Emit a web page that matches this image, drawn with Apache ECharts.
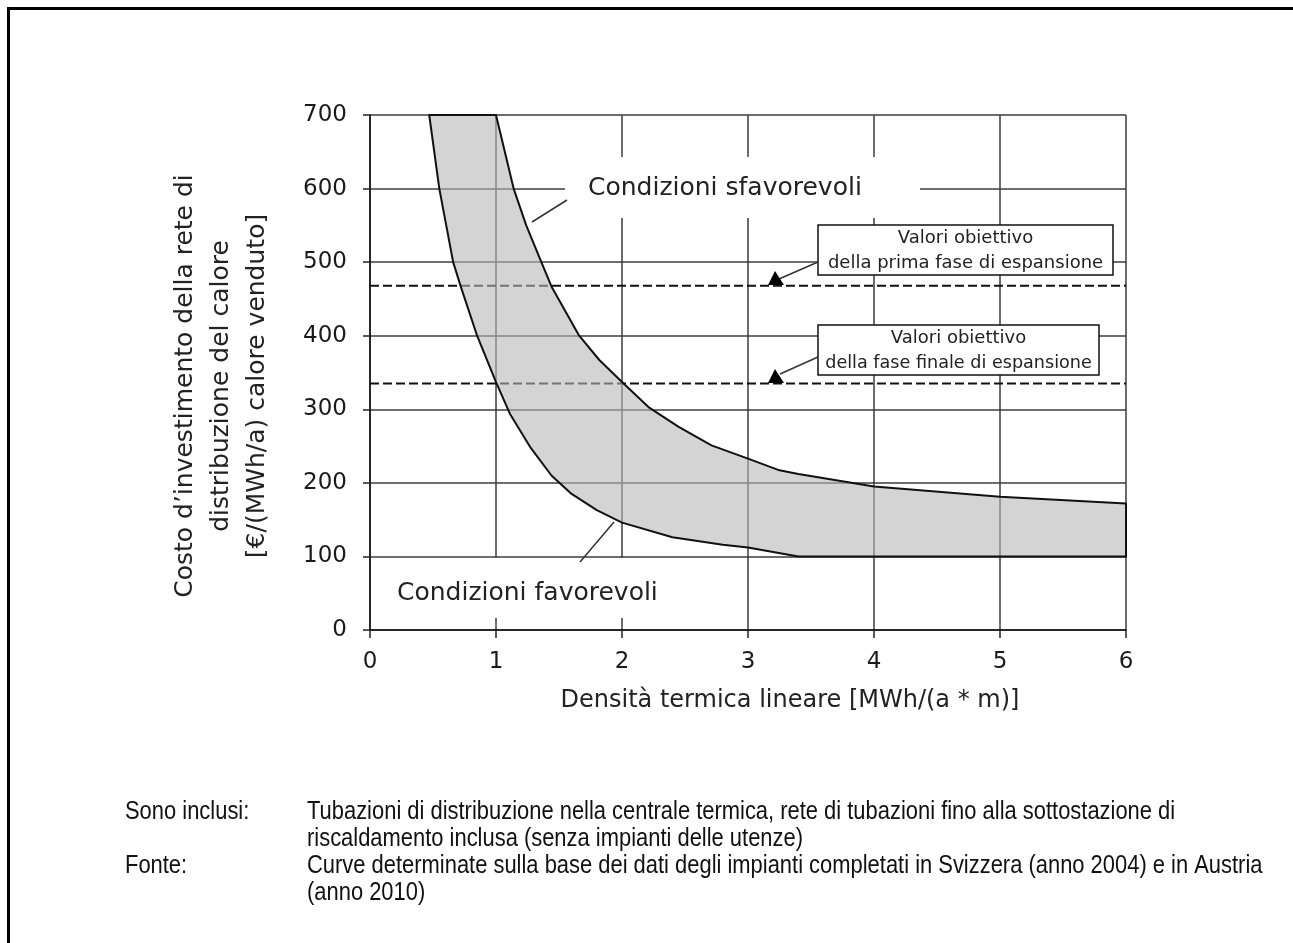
<!DOCTYPE html>
<html>
<head>
<meta charset="utf-8">
<script src="https://cdn.jsdelivr.net/npm/echarts@6/dist/echarts.min.js"></script>
<style>
html,body{margin:0;padding:0;background:#fff;}
#c{width:1293px;height:943px;}
</style>
</head>
<body>
<div id="c"></div>
<script>
// Favourable conditions (lower curve)
const favX = [0.47, 0.55, 0.66, 0.72, 0.85, 1.0, 1.11, 1.27, 1.44, 1.6, 1.8, 2.0, 2.4, 2.8, 3.0, 3.4, 4, 5, 6];
const favY = [700, 600, 500, 467, 400, 337, 294, 249, 210, 185, 163, 146, 126, 116, 112, 100, 100, 100, 100];
// Unfavourable conditions (upper curve)
const sfavX = [1.0, 1.07, 1.14, 1.24, 1.36, 1.44, 1.66, 1.82, 2.0, 2.21, 2.45, 2.71, 3.0, 3.25, 3.4, 4.0, 5.0, 6.0];
const sfavY = [700, 650, 600, 550, 500, 467, 400, 367, 337, 303, 276, 251, 233, 217, 212, 195, 181, 172];
// Target values
const targetFirst = 468;
const targetFinal = 335;
const xRange = [0, 6];

const F = '"DejaVu Sans", sans-serif';
const NF = '"Liberation Sans", Arial, sans-serif';
const NSX = 0.877; // narrow look for the notes

const chart = echarts.init(document.getElementById('c'), null, {renderer: 'canvas'});

const axisCommon = {
  axisLine: {show: true, onZero: false, lineStyle: {color: '#111', width: 1.5}},
  axisTick: {show: true, length: 8, lineStyle: {color: '#222', width: 1.5}},
  splitLine: {show: true, lineStyle: {color: '#3c3c3c', width: 1.5}},
  axisLabel: {color: '#1a1a1a', fontFamily: F, fontSize: 23}
};

function note(x, y, text) {
  return {type: 'text', z: 10, x: x, y: y, scaleX: NSX,
    style: {text: text, font: '25px ' + NF, fill: '#111', align: 'left', verticalAlign: 'middle'}};
}

const option = {
  animation: false,
  backgroundColor: '#fff',
  grid: {left: 370, right: 167, top: 115, bottom: 313},
  xAxis: Object.assign({}, axisCommon, {
    type: 'value', min: 0, max: 6, interval: 1,
    axisLabel: Object.assign({}, axisCommon.axisLabel, {margin: 21})
  }),
  yAxis: Object.assign({}, axisCommon, {
    type: 'value', min: 0, max: 700, interval: 100,
    axisTick: {show: true, length: 7, lineStyle: {color: '#222', width: 1.5}},
    axisLabel: Object.assign({}, axisCommon.axisLabel, {margin: 23})
  }),
  series: [
    {
      type: 'line', name: 'first', z: 3, silent: true, symbol: 'none',
      data: [[xRange[0], targetFirst], [xRange[1], targetFirst]],
      lineStyle: {color: '#111', width: 2, type: [9, 4]}
    },
    {
      type: 'line', name: 'final', z: 3, silent: true, symbol: 'none',
      data: [[xRange[0], targetFinal], [xRange[1], targetFinal]],
      lineStyle: {color: '#111', width: 2, type: [9, 4]}
    },
    {
      type: 'custom', name: 'band', z: 5, silent: true,
      data: [[0, 0]],
      renderItem: function (params, api) {
        const pts = [];
        for (let i = 0; i < favX.length; i++) pts.push(api.coord([favX[i], favY[i]]));
        for (let i = sfavX.length - 1; i >= 0; i--) pts.push(api.coord([sfavX[i], sfavY[i]]));
        return {
          type: 'polygon',
          shape: {points: pts},
          style: {fill: 'rgba(183,183,183,0.6)', stroke: '#111', lineWidth: 2, lineJoin: 'round'}
        };
      }
    }
  ],
  graphic: [
    // outer frame
    {type: 'line', z: 20, shape: {x1: 7, y1: 8.5, x2: 1293, y2: 8.5}, style: {stroke: '#000', lineWidth: 3}},
    {type: 'line', z: 20, shape: {x1: 8.5, y1: 7, x2: 8.5, y2: 943}, style: {stroke: '#000', lineWidth: 3}},
    // white backgrounds behind labels
    {type: 'rect', z: 1, shape: {x: 565, y: 157, width: 355, height: 61}, style: {fill: '#fff'}},
    {type: 'rect', z: 1, shape: {x: 373, y: 558, width: 345, height: 60}, style: {fill: '#fff'}},
    {type: 'text', z: 10, x: 588, y: 188, style: {text: 'Condizioni sfavorevoli', font: '25px ' + F, fill: '#222', align: 'left', verticalAlign: 'middle'}},
    {type: 'line', z: 10, shape: {x1: 567, y1: 200, x2: 532, y2: 222}, style: {stroke: '#333', lineWidth: 1.5}},
    {type: 'text', z: 10, x: 397, y: 593, style: {text: 'Condizioni favorevoli', font: '25px ' + F, fill: '#222', align: 'left', verticalAlign: 'middle'}},
    {type: 'line', z: 10, shape: {x1: 580, y1: 562, x2: 614, y2: 522}, style: {stroke: '#333', lineWidth: 1.5}},
    // target boxes
    {type: 'rect', z: 10, shape: {x: 818, y: 225, width: 295, height: 50}, style: {fill: '#fff', stroke: '#111', lineWidth: 1.5}},
    {type: 'text', z: 11, x: 965.5, y: 238, style: {text: 'Valori obiettivo', font: '18px ' + F, fill: '#222', align: 'center', verticalAlign: 'middle'}},
    {type: 'text', z: 11, x: 965.5, y: 263, style: {text: 'della prima fase di espansione', font: '18px ' + F, fill: '#222', align: 'center', verticalAlign: 'middle'}},
    {type: 'line', z: 10, shape: {x1: 818, y1: 262, x2: 779, y2: 279}, style: {stroke: '#333', lineWidth: 1.5}},
    {type: 'polygon', z: 10, shape: {points: [[768, 285], [784, 285], [775, 271]]}, style: {fill: '#000'}},
    {type: 'rect', z: 10, shape: {x: 818, y: 325, width: 281, height: 50}, style: {fill: '#fff', stroke: '#111', lineWidth: 1.5}},
    {type: 'text', z: 11, x: 958.5, y: 338, style: {text: 'Valori obiettivo', font: '18px ' + F, fill: '#222', align: 'center', verticalAlign: 'middle'}},
    {type: 'text', z: 11, x: 958.5, y: 363, style: {text: 'della fase finale di espansione', font: '17.6px ' + F, fill: '#222', align: 'center', verticalAlign: 'middle'}},
    {type: 'line', z: 10, shape: {x1: 818, y1: 357, x2: 780, y2: 374}, style: {stroke: '#333', lineWidth: 1.5}},
    {type: 'polygon', z: 10, shape: {points: [[768, 383], [784, 383], [775, 369]]}, style: {fill: '#000'}},
    // axis titles
    {type: 'text', z: 10, x: 790, y: 701, style: {text: 'Densità termica lineare [MWh/(a * m)]', font: '24px ' + F, fill: '#222', align: 'center', verticalAlign: 'middle'}},
    {type: 'text', z: 10, x: 221, y: 386, rotation: Math.PI / 2,
      style: {text: 'Costo d’investimento della rete di\ndistribuzione del calore\n[€/(MWh/a) calore venduto]', font: '25px ' + F, lineHeight: 36, fill: '#222', align: 'center', verticalAlign: 'middle'}},
    // notes
    note(125, 812, 'Sono inclusi:'),
    note(307, 812, 'Tubazioni di distribuzione nella centrale termica, rete di tubazioni fino alla sottostazione di'),
    note(307, 839, 'riscaldamento inclusa (senza impianti delle utenze)'),
    note(125, 866, 'Fonte:'),
    note(307, 866, 'Curve determinate sulla base dei dati degli impianti completati in Svizzera (anno 2004) e in Austria'),
    note(307, 893, '(anno 2010)')
  ]
};
chart.setOption(option);
</script>
</body>
</html>
